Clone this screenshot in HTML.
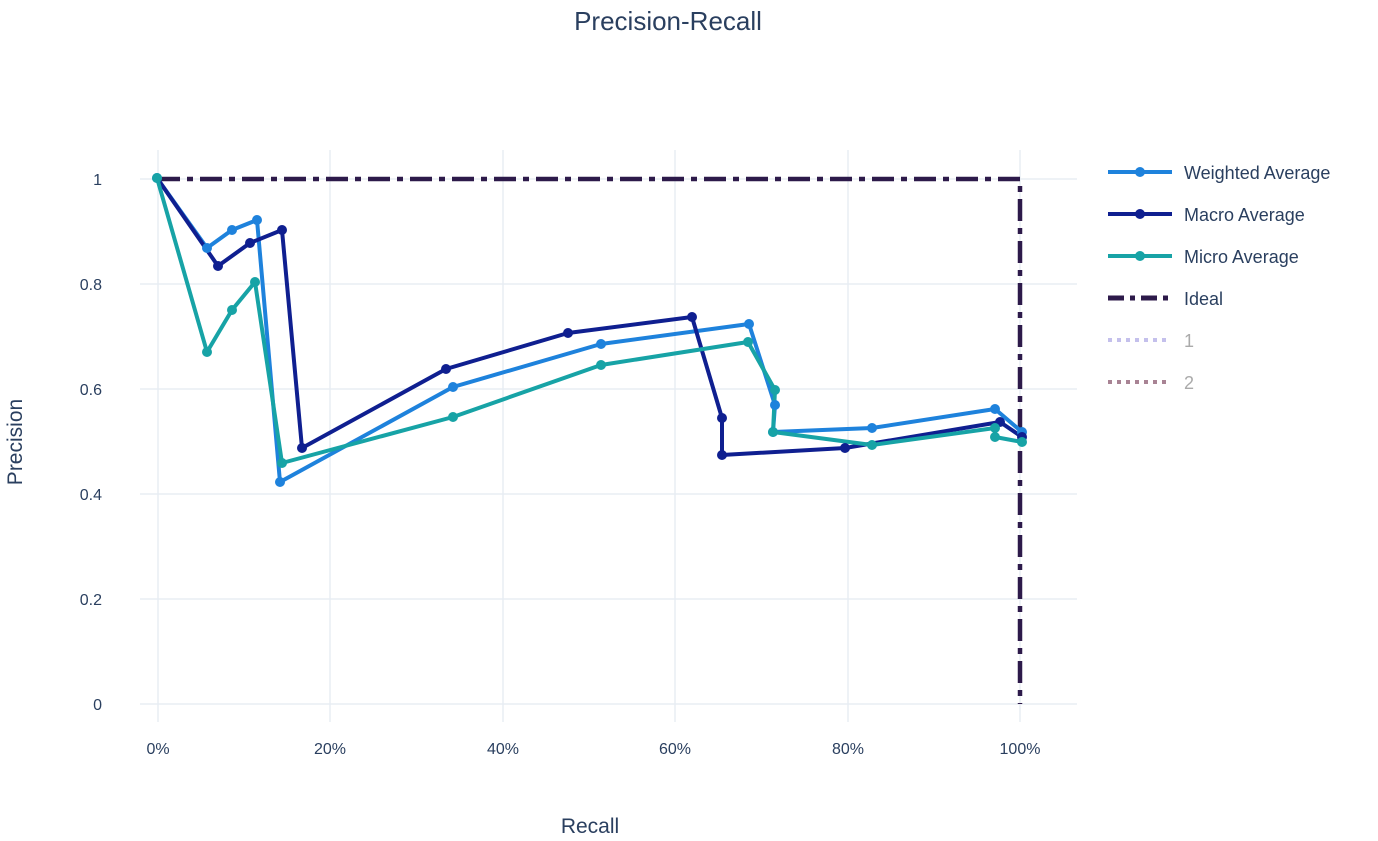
<!DOCTYPE html>
<html><head><meta charset="utf-8"><style>
html,body{margin:0;padding:0;background:#fff;}
svg{display:block;font-family:"Liberation Sans","DejaVu Sans",sans-serif;}
</style></head><body>
<svg width="1378" height="841" viewBox="0 0 1378 841" xmlns="http://www.w3.org/2000/svg">
<rect width="1378" height="841" fill="#fff"/>
<g stroke="#e8edf3" stroke-width="1.5">
<line x1="140" y1="179" x2="1077" y2="179"/>
<line x1="140" y1="284" x2="1077" y2="284"/>
<line x1="140" y1="389" x2="1077" y2="389"/>
<line x1="140" y1="494" x2="1077" y2="494"/>
<line x1="140" y1="599" x2="1077" y2="599"/>
<line x1="140" y1="704" x2="1077" y2="704"/>
<line x1="158" y1="150" x2="158" y2="722"/>
<line x1="330" y1="150" x2="330" y2="722"/>
<line x1="503" y1="150" x2="503" y2="722"/>
<line x1="675" y1="150" x2="675" y2="722"/>
<line x1="848" y1="150" x2="848" y2="722"/>
<line x1="1020" y1="150" x2="1020" y2="722"/>
</g>
<g fill="#2a3f5f" font-size="16" text-anchor="end">
<text x="102" y="185">1</text><text x="102" y="290">0.8</text><text x="102" y="395">0.6</text>
<text x="102" y="500">0.4</text><text x="102" y="605">0.2</text><text x="102" y="710">0</text>
</g>
<g fill="#2a3f5f" font-size="16" text-anchor="middle">
<text x="158" y="754">0%</text><text x="330" y="754">20%</text><text x="503" y="754">40%</text>
<text x="675" y="754">60%</text><text x="848" y="754">80%</text><text x="1020" y="754">100%</text>
</g>
<text x="668" y="30" font-size="26" fill="#2a3f5f" text-anchor="middle">Precision-Recall</text>
<text x="590" y="833" font-size="21" fill="#2a3f5f" text-anchor="middle">Recall</text>
<text x="22" y="442" font-size="21" fill="#2a3f5f" text-anchor="middle" transform="rotate(-90 22 442)">Precision</text>
<polyline points="158,179 1020,179 1020,704" fill="none" stroke="#2d1a4a" stroke-width="4.5" stroke-dasharray="22,7,6,7"/>
<g fill="none" stroke-width="4" stroke-linejoin="round">
<polyline stroke="#1e82dc" points="157,178 207,248 232,230 257,220 280,482 453,387 601,344 749,324 775,405 773,432 872,428 995,409 1022,432"/>
<polyline stroke="#0f1f90" points="157,178 218,266 250,243 282,230 302,448 446,369 568,333 692,317 722,418 722,455 845,448 1000,422 1022,437"/>
<polyline stroke="#17a3a6" points="157,178 207,352 232,310 255,282 282,463 453,417 601,365 748,342 775,390 773,432 872,445 995,428 995,437 1022,442"/>
</g>
<g fill="#1e82dc"><circle cx="157" cy="178" r="5"/><circle cx="207" cy="248" r="5"/><circle cx="232" cy="230" r="5"/><circle cx="257" cy="220" r="5"/><circle cx="280" cy="482" r="5"/><circle cx="453" cy="387" r="5"/><circle cx="601" cy="344" r="5"/><circle cx="749" cy="324" r="5"/><circle cx="775" cy="405" r="5"/><circle cx="773" cy="432" r="5"/><circle cx="872" cy="428" r="5"/><circle cx="995" cy="409" r="5"/><circle cx="1022" cy="432" r="5"/></g>
<g fill="#0f1f90"><circle cx="218" cy="266" r="5"/><circle cx="250" cy="243" r="5"/><circle cx="282" cy="230" r="5"/><circle cx="302" cy="448" r="5"/><circle cx="446" cy="369" r="5"/><circle cx="568" cy="333" r="5"/><circle cx="692" cy="317" r="5"/><circle cx="722" cy="418" r="5"/><circle cx="722" cy="455" r="5"/><circle cx="845" cy="448" r="5"/><circle cx="1000" cy="422" r="5"/><circle cx="1022" cy="437" r="5"/></g>
<g fill="#17a3a6"><circle cx="157" cy="178" r="5"/><circle cx="207" cy="352" r="5"/><circle cx="232" cy="310" r="5"/><circle cx="255" cy="282" r="5"/><circle cx="282" cy="463" r="5"/><circle cx="453" cy="417" r="5"/><circle cx="601" cy="365" r="5"/><circle cx="748" cy="342" r="5"/><circle cx="775" cy="390" r="5"/><circle cx="773" cy="432" r="5"/><circle cx="872" cy="445" r="5"/><circle cx="995" cy="428" r="5"/><circle cx="995" cy="437" r="5"/><circle cx="1022" cy="442" r="5"/></g>
<g stroke-width="4">
<line x1="1108" y1="172" x2="1172" y2="172" stroke="#1e82dc"/><circle cx="1140" cy="172" r="5" fill="#1e82dc"/>
<line x1="1108" y1="214" x2="1172" y2="214" stroke="#0f1f90"/><circle cx="1140" cy="214" r="5" fill="#0f1f90"/>
<line x1="1108" y1="256" x2="1172" y2="256" stroke="#17a3a6"/><circle cx="1140" cy="256" r="5" fill="#17a3a6"/>
<line x1="1108" y1="298" x2="1168" y2="298" stroke="#2d1a4a" stroke-width="5" stroke-dasharray="16,6,5,6"/>
<line x1="1108" y1="340" x2="1168" y2="340" stroke="#c4c0ec" stroke-dasharray="4,5"/>
<line x1="1108" y1="382" x2="1168" y2="382" stroke="#a88394" stroke-dasharray="4,5"/>
</g>
<g font-size="18" fill="#2a3f5f">
<text x="1184" y="179">Weighted Average</text>
<text x="1184" y="221">Macro Average</text>
<text x="1184" y="263">Micro Average</text>
<text x="1184" y="305">Ideal</text>
<text x="1184" y="347" fill="#aaa">1</text>
<text x="1184" y="389" fill="#aaa">2</text>
</g>
</svg>
</body></html>
